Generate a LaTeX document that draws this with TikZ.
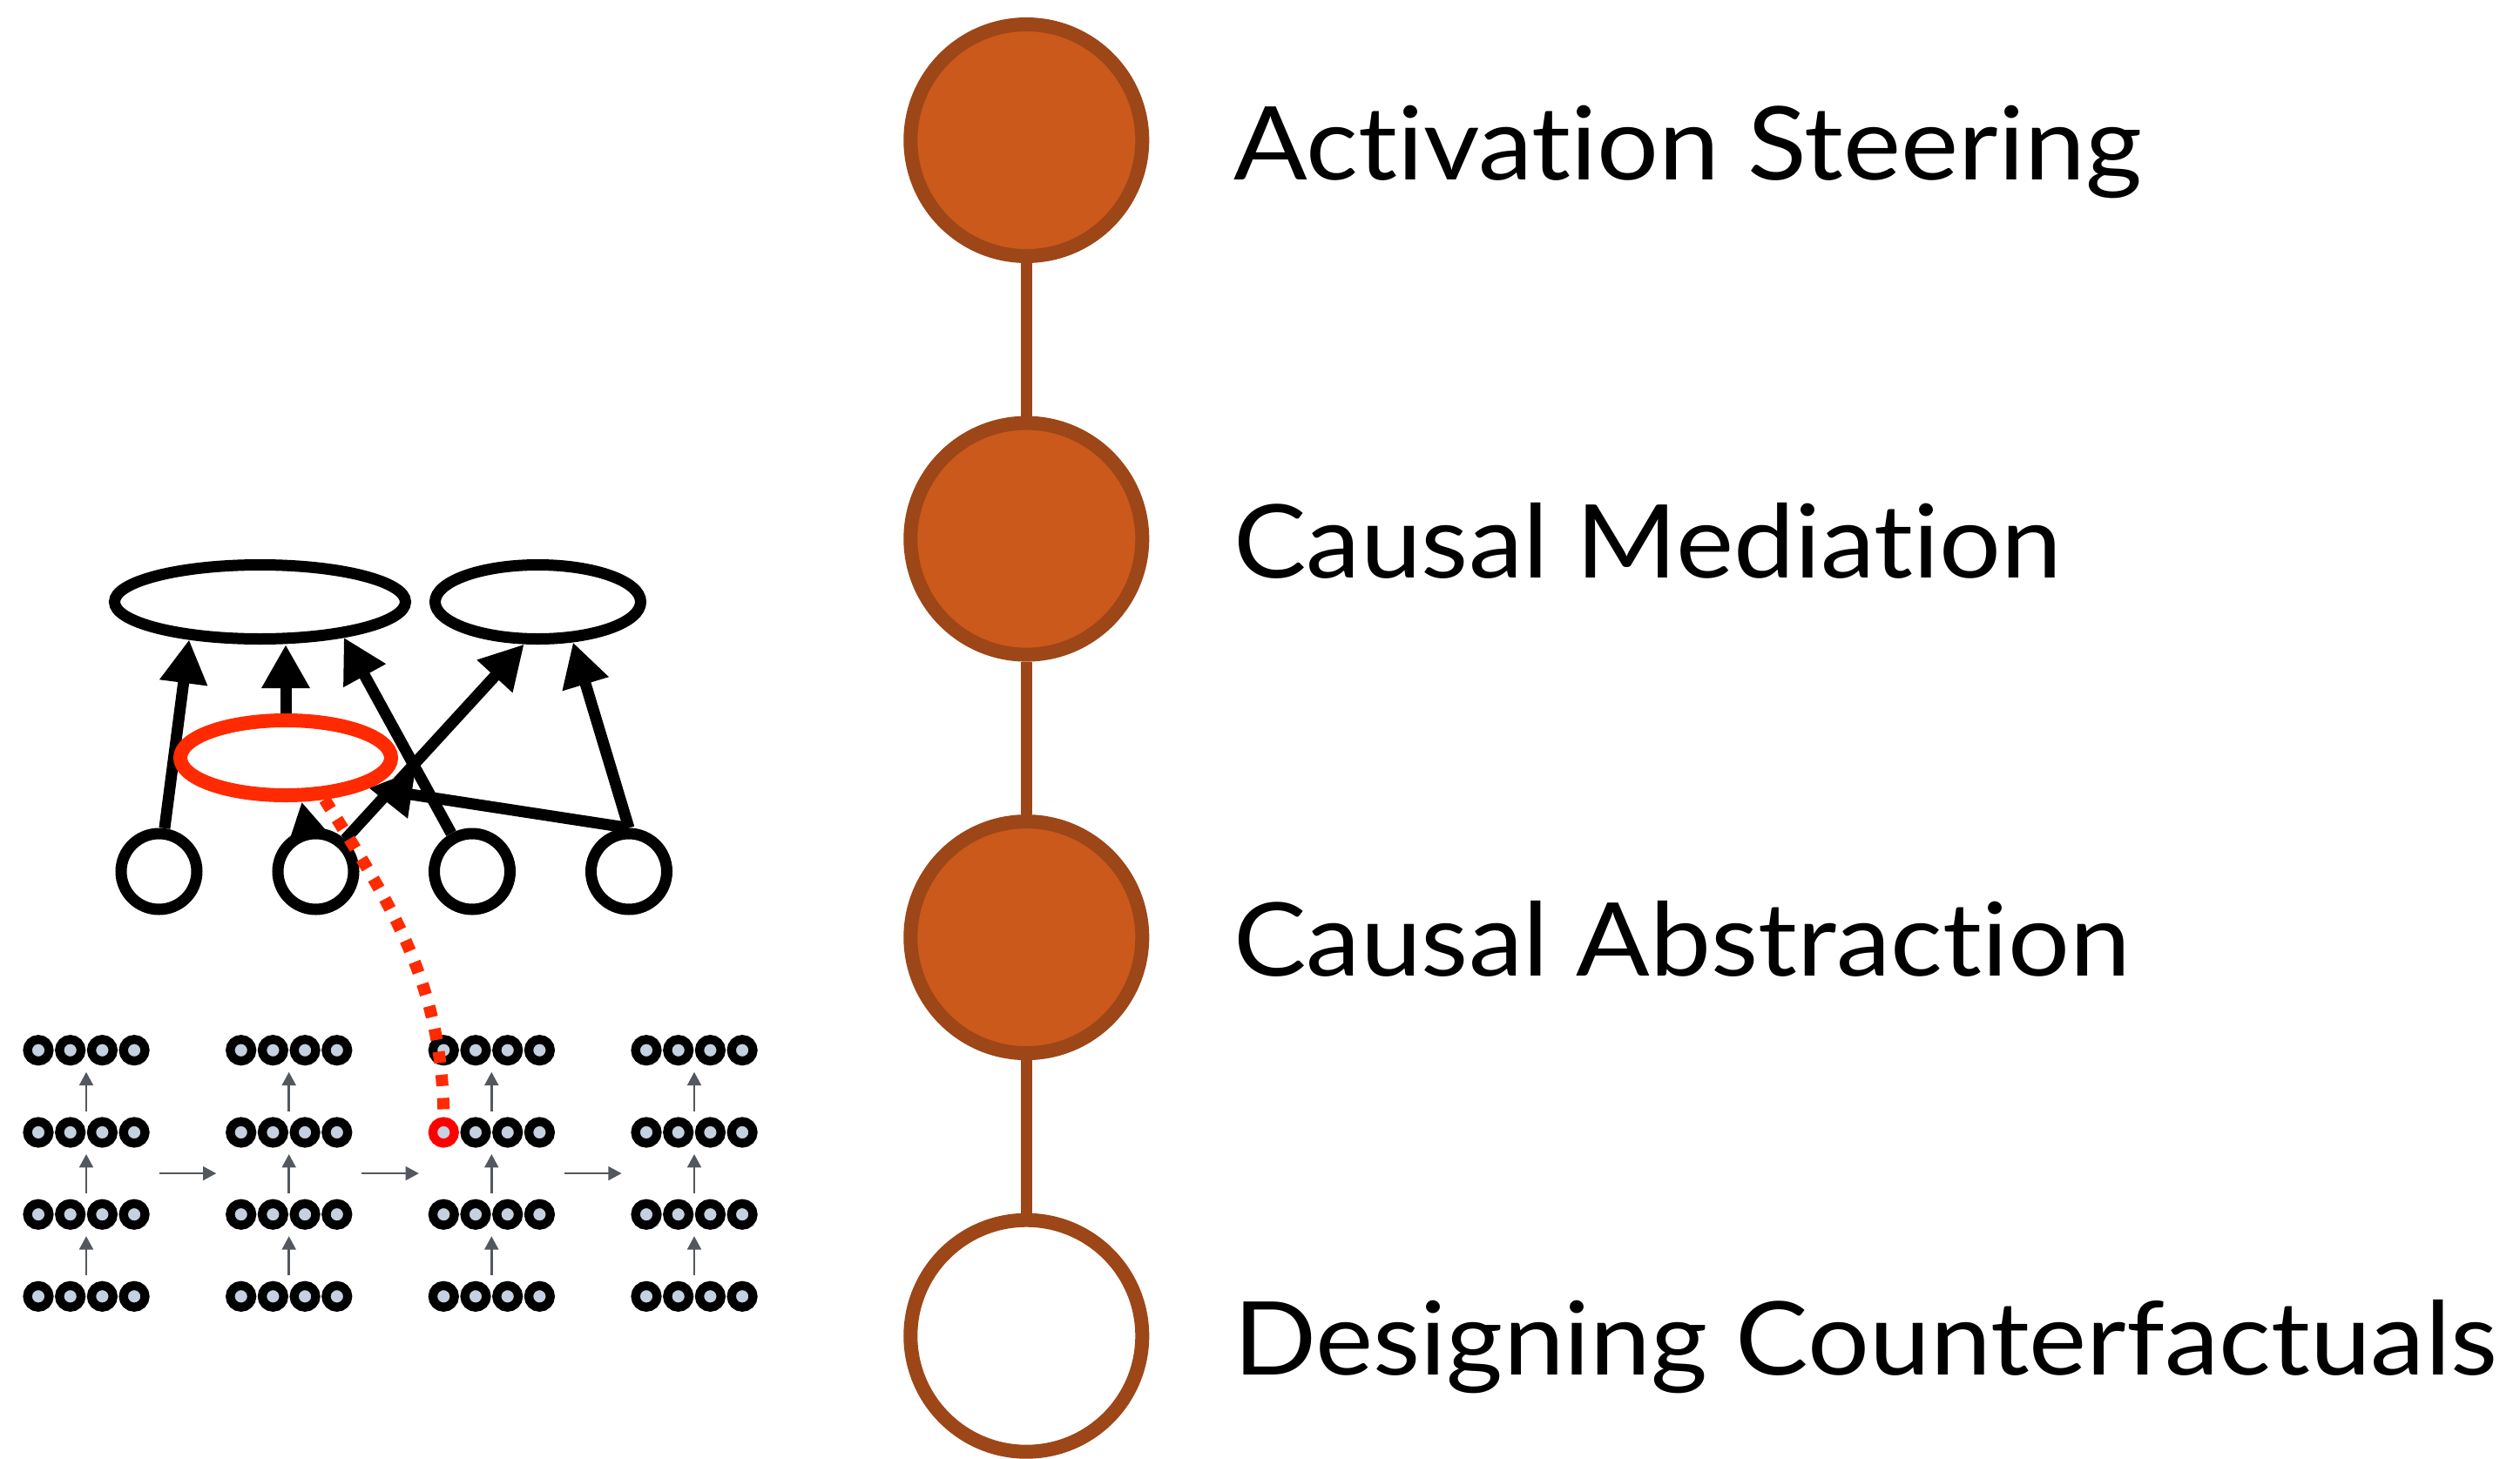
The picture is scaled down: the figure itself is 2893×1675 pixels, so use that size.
\documentclass[tikz,border=0pt]{standalone}
\usepackage{fontspec}
\setmainfont[Ligatures=NoCommon,FakeStretch=1.07]{Lato}
\usetikzlibrary{arrows.meta,shapes.geometric,calc,backgrounds}
\definecolor{stepfill}{RGB}{203,89,28}
\definecolor{stepline}{RGB}{157,70,24}
\definecolor{hired}{RGB}{255,42,0}
\definecolor{neuronred}{RGB}{255,0,0}
\definecolor{neuronfill}{RGB}{197,208,224}
\definecolor{flowgray}{RGB}{83,88,95}
\begin{document}
\begin{tikzpicture}[x=1pt,y=-1pt,
  bigdot/.style={circle,draw=stepline,line width=16pt,minimum size=266pt,inner sep=0pt},
  done/.style={bigdot,fill=stepfill},
  todo/.style={bigdot,fill=white},
  link/.style={draw=stepline,line width=13.3pt},
  steptext/.style={anchor=base west,font=\fontsize{117}{140}\selectfont,inner sep=0pt},
  var/.style={ellipse,draw=black,line width=13pt,inner sep=0pt,minimum height=85pt},
  unit/.style={circle,draw=black,fill=white,line width=13pt,minimum size=87pt,inner sep=0pt},
  barr/.style={line width=13pt,-{Triangle[length=50pt,width=52pt]}},
  garr/.style={draw=flowgray,line width=2.7pt,-{Triangle[length=15.3pt,width=15.7pt]}},
  neuron/.style={circle,draw=black,fill=neuronfill,line width=10.3pt,minimum size=24.8pt,inner sep=0pt},
  rowbox/.style={rectangle,draw=none,minimum width=145pt,minimum height=35pt,inner sep=0pt,outer sep=0pt},
  reddash/.style={draw=hired,line width=14pt,dash pattern=on 13pt off 13.7pt}
]
\useasboundingbox (0,0) rectangle (2893,1675);

% ---- timeline on the right ----
\node[done] (C1) at (1178.3,161) {};
\node[done] (C2) at (1178.3,618.6) {};
\node[done] (C3) at (1178.3,1076.1) {};
\node[todo] (C4) at (1178.3,1533.7) {};
\draw[link] (C1) -- (C2);
\draw[link] (C2) -- (C3);
\draw[link] (C3) -- (C4);
\node[steptext] (T1) at (1416,206) {Activation Steering};
\node[steptext] (T2) at (1416,663.3) {Causal Mediation};
\node[steptext] (T3) at (1416,1120.7) {Causal Abstraction};
\node[steptext] (T4) at (1416,1578) {Designing Counterfactuals};

% ---- causal graph ----
\node[var,minimum width=334pt] (E1) at (298.5,691) {};
\node[var,minimum width=236pt] (E2) at (617.5,691) {};
\node[unit] (c1) at (182.5,1000.5) {};
\node[unit] (c2) at (362.5,1000.5) {};
\node[unit] (c3) at (542,1000.5) {};
\node[unit] (c4) at (722,1000.5) {};
\node[ellipse,draw=hired,line width=16pt,minimum width=242pt,minimum height=86pt,inner sep=0pt] (R) at (328,870) {};
\begin{pgfonlayer}{background}
\draw[barr] (c1) -- (E1.-152.8);
\draw[barr] (R.north) -- (R.north |- E1.south);
\draw[barr] (c3) -- (E1.-23);
\draw[barr] (c2) -- (E2.-108);
\draw[barr] (c4.north) -- (E2.-49.2);
\draw[barr] (c4.north) -- (R.-20.8);
\draw[barr] (c2) -- (R.-70);
\end{pgfonlayer}

% ---- neuron grid ----
\foreach \b/\bx in {1/44,2/276.7,3/509.3,4/742}{
  \foreach \r/\ry in {1/1205.7,2/1300,3/1394.2,4/1488.3}{
    \node[rowbox] (L-\b-\r) at ({\bx+55},\ry) {};
    \foreach \i in {1,...,4}{
      \pgfmathtruncatemacro{\isred}{and(and(\b==3,\r==2),\i==1)}
      \ifnum\isred=1
        \node[neuron,draw=neuronred] (N-\b-\r-\i) at ({\bx+(\i-1)*36.7},\ry) {};
      \else
        \node[neuron] (N-\b-\r-\i) at ({\bx+(\i-1)*36.7},\ry) {};
      \fi
    }
  }
}
\foreach \b in {1,...,4}{
  \foreach \r/\s in {1/2,2/3,3/4}{
    \draw[garr,shorten <=6.5pt,shorten >=7.5pt] (L-\b-\s.north) -- (L-\b-\r.south);
  }
}
\foreach \b/\c in {1/2,2/3,3/4}{
  \draw[garr,shorten <=11.2pt,shorten >=10.9pt]
    ($(L-\b-2.south east)!.5!(L-\b-3.north east)$) --
    ($(L-\c-2.south west)!.5!(L-\c-3.north west)$);
}

% ---- dotted link from the intervened variable to the neuron ----
\draw[reddash] (R.-47.5) .. controls (450,1040) and (508,1130) .. (N-3-2-1.north);
\end{tikzpicture}
\end{document}
